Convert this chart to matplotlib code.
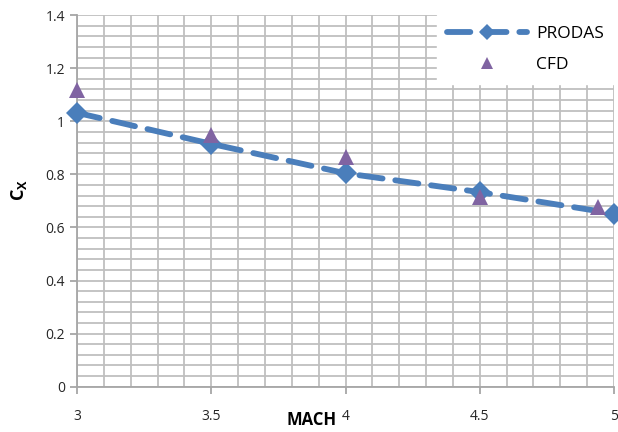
import matplotlib
matplotlib.use("Agg")
import matplotlib.pyplot as plt
from matplotlib.ticker import MultipleLocator

plt.rcParams['font.family'] = ['Open Sans', 'DejaVu Sans']

mach_prodas = [3.0, 3.5, 4.0, 4.5, 5.0]
cx_prodas = [1.032, 0.915, 0.804, 0.733, 0.652]
mach_cfd = [3.0, 3.5, 4.0, 4.5, 4.94]
cx_cfd = [1.118, 0.950, 0.865, 0.716, 0.676]
xticks = [3, 3.5, 4, 4.5, 5]
xtick_labels = ['3', '3.5', '4', '4.5', '5']
yticks = [0, 0.2, 0.4, 0.6, 0.8, 1.0, 1.2, 1.4]
ytick_labels = ['0', '0.2', '0.4', '0.6', '0.8', '1', '1.2', '1.4']

fig = plt.figure(figsize=(6.18, 4.32), dpi=100)
ax = fig.add_axes([0.1246, 0.1049, 0.869, 0.8601])

grid_c = '#bfbfbf'
ax.set_xlim(3, 5)
ax.set_ylim(0, 1.4)
ax.xaxis.set_minor_locator(MultipleLocator(0.1))
ax.yaxis.set_minor_locator(MultipleLocator(0.04))
ax.set_xticks(xticks)
ax.set_xticklabels(xtick_labels)
ax.set_yticks(yticks)
ax.set_yticklabels(ytick_labels)
ax.grid(True, which='both', color=grid_c, linewidth=1.3)
ax.set_axisbelow(True)
for s in ['top', 'right']:
    ax.spines[s].set_visible(False)
for s in ['left', 'bottom']:
    ax.spines[s].set_color('#a6a6a6')
    ax.spines[s].set_linewidth(1.3)
ax.tick_params(which='major', direction='out', length=5, width=1.3, color='#a6a6a6',
               labelsize=10, labelcolor='#262626')
ax.tick_params(axis='x', which='major', pad=11)
ax.tick_params(which='minor', length=0)

ax.plot(mach_prodas, cx_prodas, color='#4a7ebb', linewidth=4.2, linestyle=(0, (4, 2.2)),
        dash_capstyle='round', marker='D', markersize=11, markeredgewidth=0,
        label='PRODAS', clip_on=False, zorder=3)
ax.plot(mach_cfd, cx_cfd, linestyle='none', color='#8064a2', marker='^', markersize=12,
        markeredgewidth=0, label='CFD', clip_on=False, zorder=4)

ax.set_xlabel('MACH', fontsize=12, fontweight='bold', va='bottom')
ax.xaxis.set_label_coords(0.437, -0.1135)
ax.set_ylabel(r'C$_\mathregular{X}$', fontsize=13, fontweight='bold', va='center')
ax.yaxis.set_label_coords(-0.108, 0.53)

leg = ax.legend(loc='upper right', frameon=True, fontsize=12.5, handlelength=4.6,
                handletextpad=0.5, markerscale=0.7,
                borderaxespad=0.0, labelspacing=0.9, borderpad=0.6, fancybox=False)
leg.get_frame().set_edgecolor('white')
leg.get_frame().set_facecolor('white')
leg.get_frame().set_alpha(1)
leg.set_zorder(5)

fig.savefig('out.png', dpi=100)
